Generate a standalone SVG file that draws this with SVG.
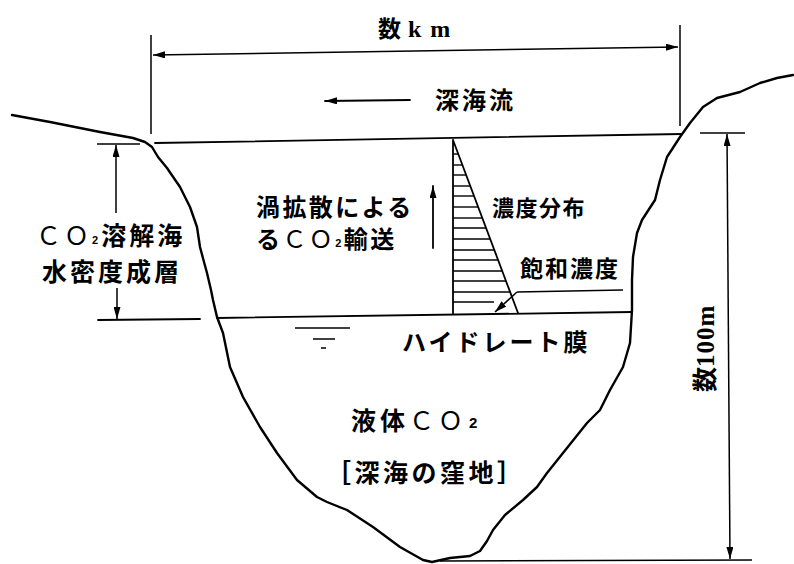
<svg xmlns="http://www.w3.org/2000/svg" width="794" height="564" viewBox="0 0 794 564">
  <defs>
    <marker id="ah" viewBox="0 0 12 7" refX="12" refY="3.5" markerWidth="12" markerHeight="7" markerUnits="userSpaceOnUse" orient="auto-start-reverse">
      <path d="M0,0 L12,3.5 L0,7 z" fill="#000"/>
    </marker>
    <style>
      .ln { stroke: #000; stroke-width: 1.8; fill: none; stroke-linecap: round; }
      .thin { stroke: #000; stroke-width: 1.5; fill: none; }
      .ground { stroke: #000; stroke-width: 2.4; fill: none; stroke-linejoin: round; stroke-linecap: round; }
      .jp { font-family: "Noto Sans CJK JP", "Noto Sans CJK SC", sans-serif; font-weight: 700; fill: #000; }
      .lat { font-family: "Noto Sans CJK JP", sans-serif; font-weight: 400; }
      .sub { font-family: "Liberation Sans", sans-serif; font-weight: 700; }
      .serif { font-family: "Liberation Serif", serif; font-weight: 700; fill: #000; }
      .hatch line { stroke: #000; stroke-width: 1.4; }
    </style>
  </defs>
  <rect width="794" height="564" fill="#fff"/>

  <!-- seabed profile with the basin -->
  <g id="seabed">
    <path class="ground" d="M12,115 L50,122 L100,132 L133,138 L145,142 L152,147 L158,157 L167,168 L180,187 L190,207 L197,227 L200,247 L204,262 L207,273 L211,290 L213,300 L217,317 L223,333 L230,367 L243,397 L260,427 L277,453 L297,480 L317,497 L327,502 L347,510 L373,527 L400,547 L423,560 L432,562 L450,558 L470,556 L480,551 L487,541 L493,530 L505,515 L523,500 L537,487 L547,473 L563,453 L587,423 L600,410 L610,390 L623,367 L630,343 L632,310 L632,280 L633,257 L637,233 L642,220 L655,200 L660,180 L667,157 L680,137 L690,123 L703,107 L717,98 L740,92 L760,83 L777,78 L793,75"/>
    <!-- reference bottom line -->
    <line class="thin" x1="440" y1="561" x2="752" y2="560"/>
  </g>

  <!-- top of the dissolved layer and liquid surface -->
  <g id="levels">
    <line class="ln" x1="155" y1="143" x2="682" y2="134"/>
    <line class="ln" x1="98" y1="320" x2="200" y2="319"/>
    <line class="ln" x1="217" y1="318" x2="632" y2="312"/>
    <!-- surface symbol -->
    <line class="thin" x1="295" y1="328" x2="350" y2="328"/>
    <line class="thin" x1="313" y1="339" x2="335" y2="339"/>
    <line class="thin" x1="321" y1="348" x2="326" y2="348"/>
  </g>

  <!-- concentration distribution -->
  <g id="concentration">
    <path class="ln" d="M453,140 L453,314 M453,140 L518,313"/>
    <g class="hatch">
      <line x1="453" y1="154" x2="458" y2="154"/>
      <line x1="453" y1="165" x2="462" y2="165"/>
      <line x1="453" y1="175" x2="466" y2="175"/>
      <line x1="453" y1="186" x2="470" y2="186"/>
      <line x1="453" y1="196" x2="474" y2="196"/>
      <line x1="453" y1="207" x2="478" y2="207"/>
      <line x1="453" y1="218" x2="482" y2="218"/>
      <line x1="453" y1="228" x2="486" y2="228"/>
      <line x1="453" y1="239" x2="490" y2="239"/>
      <line x1="453" y1="250" x2="494" y2="250"/>
      <line x1="453" y1="260" x2="498" y2="260"/>
      <line x1="453" y1="271" x2="502" y2="271"/>
      <line x1="453" y1="281" x2="506" y2="281"/>
      <line x1="453" y1="292" x2="510" y2="292"/>
      <line x1="453" y1="302" x2="494" y2="302"/>
    </g>
  </g>

  <!-- dimensions and pointers -->
  <g id="connectors">
    <!-- width -->
    <line class="thin" x1="151" y1="35" x2="151" y2="134"/>
    <line class="thin" x1="680" y1="25" x2="680" y2="126"/>
    <line class="thin" x1="153" y1="55" x2="678" y2="47" marker-start="url(#ah)" marker-end="url(#ah)"/>
    <!-- deep current -->
    <line class="ln" x1="410" y1="100" x2="325" y2="101" marker-end="url(#ah)"/>
    <!-- depth -->
    <line class="thin" x1="700" y1="133" x2="745" y2="133"/>
    <line class="thin" x1="727" y1="134" x2="730" y2="559" marker-start="url(#ah)" marker-end="url(#ah)"/>
    <!-- dissolved layer thickness -->
    <line class="thin" x1="97" y1="144" x2="140" y2="144"/>
    <line class="thin" x1="116" y1="213" x2="116" y2="145" marker-end="url(#ah)"/>
    <line class="thin" x1="117" y1="288" x2="117" y2="319" marker-end="url(#ah)"/>
    <!-- eddy transport -->
    <line class="ln" x1="433" y1="248" x2="433" y2="186" marker-end="url(#ah)"/>
    <!-- saturation pointer -->
    <line class="thin" x1="517" y1="292" x2="623" y2="290"/>
    <line class="thin" x1="517" y1="292" x2="495" y2="312" marker-end="url(#ah)"/>
  </g>

  <!-- labels -->
  <g id="labels">
    <text class="jp" x="378" y="37" font-size="23">数<tspan class="serif" font-size="24" dx="7">k</tspan><tspan class="serif" font-size="24" dx="9">m</tspan></text>
    <text class="jp" x="435" y="109" font-size="24" letter-spacing="3">深海流</text>
    <text class="jp" x="36" y="245" font-size="25" letter-spacing="3"><tspan class="lat">ＣＯ</tspan><tspan class="sub" font-size="11" dy="-1">2</tspan><tspan dy="1">溶解海</tspan></text>
    <text class="jp" x="42" y="281" font-size="25" letter-spacing="3">水密度成層</text>
    <text class="jp" x="256" y="216" font-size="24" letter-spacing="2.4">渦拡散による</text>
    <text class="jp" x="256" y="248" font-size="24" letter-spacing="2.4">る<tspan class="lat">ＣＯ</tspan><tspan class="sub" font-size="11" dy="-1">2</tspan><tspan dy="1">輸送</tspan></text>
    <text class="jp" x="492" y="216" font-size="22" letter-spacing="1.5">濃度分布</text>
    <text class="jp" x="520" y="277" font-size="23" letter-spacing="2">飽和濃度</text>
    <text class="jp" x="402" y="351" font-size="24" letter-spacing="3">ハイドレート膜</text>
    <text class="jp" x="351" y="430" font-size="25" letter-spacing="4">液体<tspan class="lat">ＣＯ</tspan><tspan class="sub" font-size="15" dx="2" dy="-2">2</tspan></text>
    <text class="jp" x="326" y="482" font-size="25" letter-spacing="3.5">［深海の窪地］</text>
    <text class="jp" font-size="25" transform="translate(714,392) rotate(-90)">数<tspan class="serif" letter-spacing="1">100m</tspan></text>
  </g>
</svg>
